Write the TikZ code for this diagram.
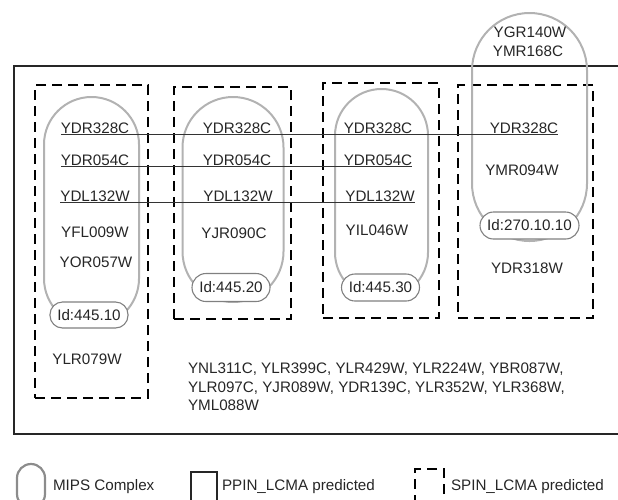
\documentclass[tikz,border=0pt]{standalone}
\usepackage{fontspec}
\setmainfont{Liberation Sans}
\begin{document}
\begin{tikzpicture}[x=1pt,y=-1pt,
  font=\fontsize{15.2}{18.5}\selectfont,
  every node/.style={inner sep=0pt, outer sep=0pt, text=black!85},
  gene/.style={anchor=base},
  mips/.style={draw=black!30, line width=2pt},
  spinbox/.style={draw=black, line width=2.4pt, dash pattern=on 10pt off 6pt},
  ppinbox/.style={draw=black!85, line width=1.2pt},
  idlab/.style={draw=black!50, line width=1.1pt, fill=white, rounded corners=12.5pt, minimum width=78pt, minimum height=26pt},
  link/.style={draw=black!80, line width=1pt},
  legtext/.style={anchor=west}]
\useasboundingbox (0,0) rectangle (618,499);

% outer PPIN frame
\node[ppinbox, minimum width=626pt, minimum height=368pt] (frame) at (327,250) {};

% SPIN dashed boxes
\node[spinbox, minimum width=113pt, minimum height=313pt] (s1) at (91.5,241.5) {};
\node[spinbox, minimum width=117pt, minimum height=232pt] (s2) at (232.5,203) {};
\node[spinbox, minimum width=116pt, minimum height=235pt] (s3) at (381,200.5) {};
\node[spinbox, minimum width=135pt, minimum height=233pt] (s4) at (525.5,201.5) {};

% MIPS complexes
\node[mips, minimum width=95pt, minimum height=229pt, rounded corners=47.5pt] (m1) at (91.5,211.5) {};
\node[mips, minimum width=101pt, minimum height=205pt, rounded corners=50.5pt] (m2) at (233,199.5) {};
\node[mips, minimum width=93pt, minimum height=210pt, rounded corners=46.5pt] (m3) at (381.5,194) {};
\node[mips, minimum width=115pt, minimum height=228pt, rounded corners=57.5pt] (m4) at (529.5,127) {};

% genes, box 1
\node[gene] (a1) at (95,133) {YDR328C};
\node[gene] (a2) at (95,165) {YDR054C};
\node[gene] (a3) at (95,201) {YDL132W};
\node[gene] (a4) at (95,237) {YFL009W};
\node[gene] (a5) at (96,267) {YOR057W};
\node[gene] (a6) at (87,364) {YLR079W};
% box 2
\node[gene] (b1) at (237,133) {YDR328C};
\node[gene] (b2) at (237,165) {YDR054C};
\node[gene] (b3) at (238,201) {YDL132W};
\node[gene] (b4) at (234,238) {YJR090C};
% box 3
\node[gene] (c1) at (378,133) {YDR328C};
\node[gene] (c2) at (378,165) {YDR054C};
\node[gene] (c3) at (380,201) {YDL132W};
\node[gene] (c4) at (377,235) {YIL046W};
% box 4
\node[gene] (d1) at (524,133) {YDR328C};
\node[gene] (d2) at (522,175) {YMR094W};
\node[gene] (d3) at (527,273) {YDR318W};
\node[gene] (d4) at (530,37) {YGR140W};
\node[gene] (d5) at (528,56) {YMR168C};

% shared proteins
\draw[link] ([yshift=-1.3pt]a1.base west) -- ([yshift=-1.3pt]d1.base east);
\draw[link] ([yshift=-1.3pt]a2.base west) -- ([yshift=-1.3pt]c2.base east);
\draw[link] ([yshift=-1.3pt]a3.base west) -- ([yshift=-1.3pt]c3.base east);

% MIPS ids
\node[idlab] (i1) at (89,315) {Id:445.10};
\node[idlab, minimum height=28pt, rounded corners=14pt] (i2) at (231,287.5) {Id:445.20};
\node[idlab, minimum height=27pt, rounded corners=13.5pt] (i3) at (380.5,287.5) {Id:445.30};
\node[idlab, minimum width=99pt, minimum height=27pt, rounded corners=13.5pt] (i4) at (529.5,225.5) {Id:270.10.10};

% unassigned proteins
\node[anchor=north west, align=left] (rest) at (188,363)
  {YNL311C, YLR399C, YLR429W, YLR224W, YBR087W,\\
   YLR097C, YJR089W, YDR139C, YLR352W, YLR368W,\\
   YML088W};

% legend
\node[draw=black!45, line width=2.2pt, minimum width=28pt, minimum height=44pt, rounded corners=14pt] (lm) at (31,486) {};
\node[legtext] (lmt) at (53,487) {MIPS Complex};
\node[ppinbox, minimum width=26pt, minimum height=42pt] (lp) at (204,493) {};
\node[legtext] (lpt) at (222,487) {PPIN\_LCMA predicted};
\node[spinbox, minimum width=29pt, minimum height=44pt] (ls) at (429.5,491) {};
\node[legtext] (lst) at (451,487) {SPIN\_LCMA predicted};
\end{tikzpicture}
\end{document}
